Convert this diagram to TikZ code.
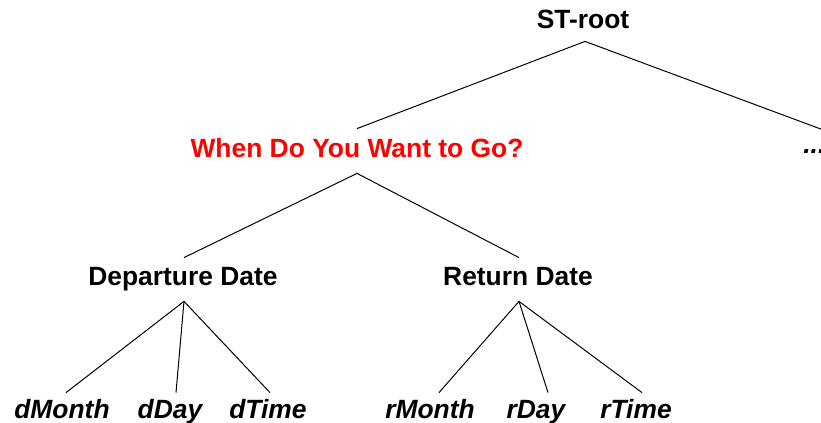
\documentclass[tikz,border=0pt]{standalone}
\usepackage{fontspec}
\setmainfont{Liberation Sans}
\usepackage{xcolor}
\usepackage{tikz}
\usetikzlibrary{calc, positioning}

\tikzset{
    label/.style={font=\fontsize{13.2}{16}\selectfont\bfseries, inner sep=0pt,
        text height=0.75em, text depth=0.2em, anchor=base},
    leaf/.style={label, font=\fontsize{13.2}{16}\selectfont\bfseries\itshape},
    branch/.style={line width=0.5pt}
}

\begin{document}
\begin{tikzpicture}[x=0.5pt, y=-0.5pt]

    % khung hình
    \useasboundingbox (0,0) rectangle (821,423);

    % =================================================================
    % 1. CÁC NÚT
    % =================================================================
    \node[label] (root) at (583, 28) {ST-root};
    \node[label, text=red] (when) at (357, 157) {When Do You Want to Go?};
    \node[leaf, anchor=base west] (dots) at (803, 153) {...};

    \node[label] (dep) at (183, 285) {Departure Date};
    \node[label] (ret) at (518, 285) {Return Date};

    \node[leaf] (dMonth) at (62, 418) {dMonth};
    \node[leaf] (dDay)   at (170, 418) {dDay};
    \node[leaf] (dTime)  at (268, 418) {dTime};
    \node[leaf] (rMonth) at (430, 418) {rMonth};
    \node[leaf] (rDay)   at (536, 418) {rDay};
    \node[leaf] (rTime)  at (636, 418) {rTime};

    % =================================================================
    % 2. CÁC NHÁNH
    % =================================================================
    \draw[branch] ($(root.south)+(2,9)$) -- ($(when.north)+(0,-13)$);
    \draw[branch] ($(root.south)+(2,9)$) -- ($(dots.north)+(16,-5)$);

    \draw[branch] ($(when.south)+(0,12)$) -- ($(dep.north)+(1,-12)$);
    \draw[branch] ($(when.south)+(0,12)$) -- ($(ret.north)+(1,-12)$);

    \foreach \leaf/\dx in {dMonth/4, dDay/6, dTime/2}
        \draw[branch] ($(dep.south)+(1,12)$) -- ($(\leaf.north)+(\dx,-10)$);
    \foreach \leaf/\dx in {rMonth/9, rDay/12, rTime/6}
        \draw[branch] ($(ret.south)+(1,12)$) -- ($(\leaf.north)+(\dx,-10)$);

\end{tikzpicture}
\end{document}
